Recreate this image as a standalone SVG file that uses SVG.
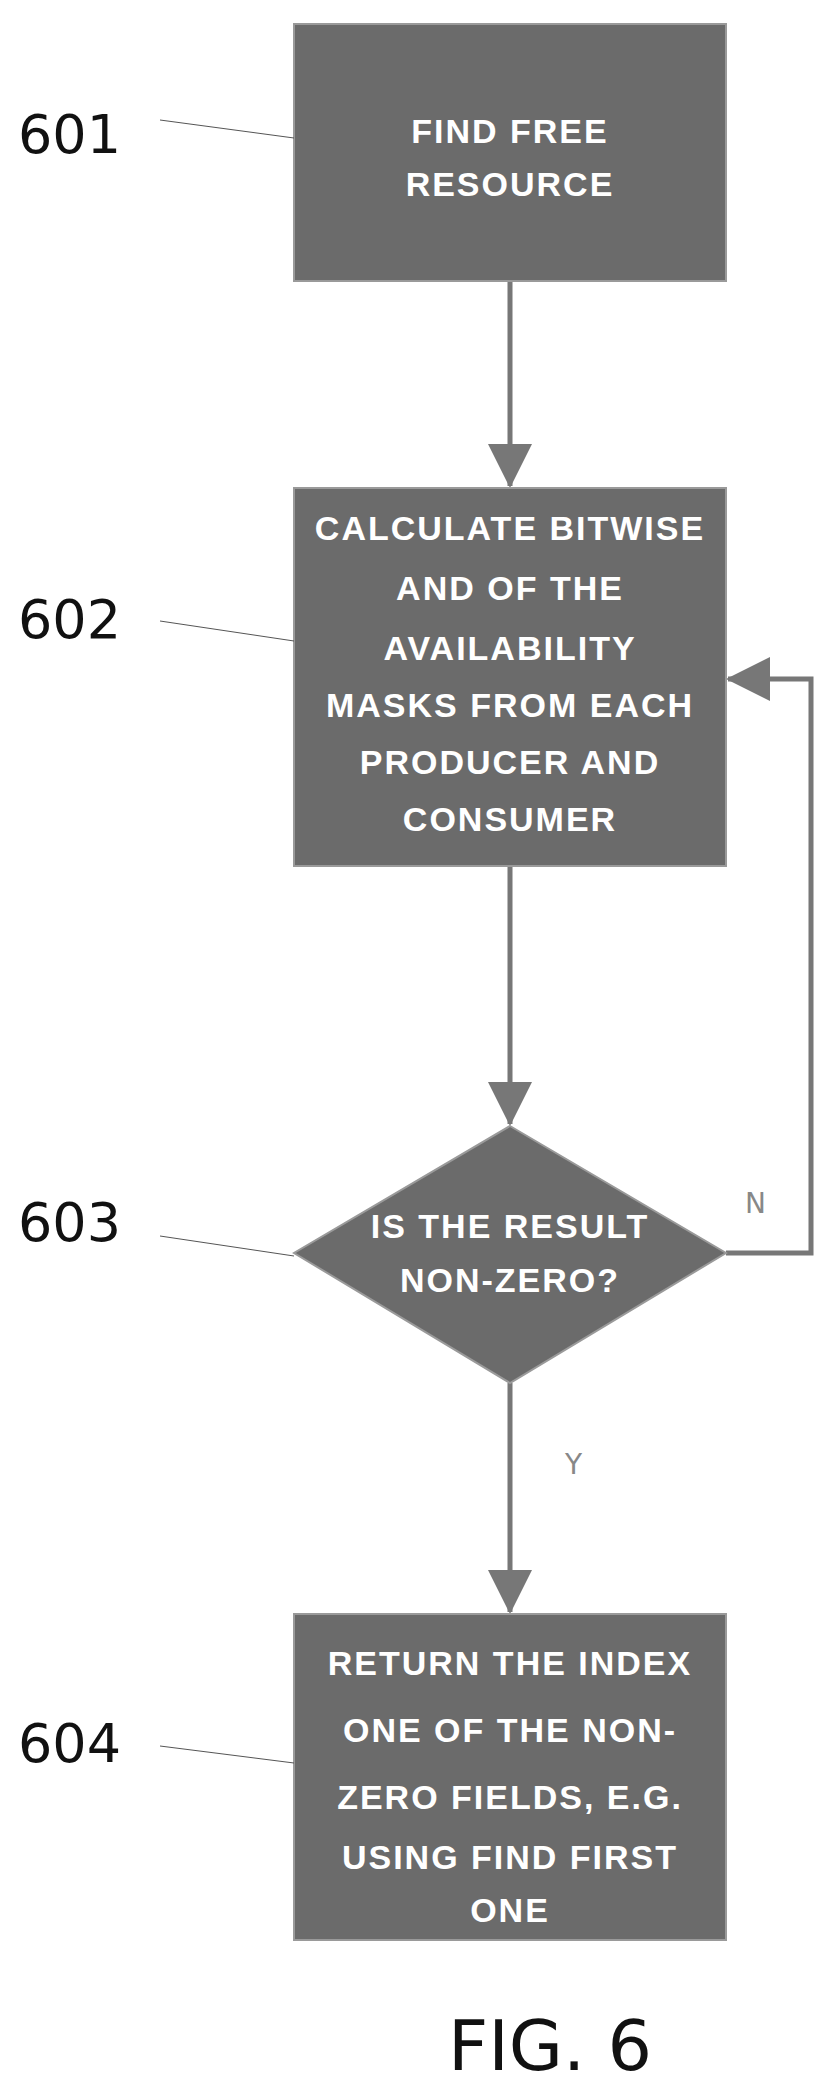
<svg xmlns="http://www.w3.org/2000/svg" width="834" height="2095" viewBox="0 0 834 2095">
<style>
.n{fill:#6b6b6b;stroke:#9a9a9a;stroke-width:2}
.t{font-family:"Liberation Sans",Arial,sans-serif;font-size:34px;font-weight:bold;letter-spacing:2px;fill:#fff;text-anchor:middle}
.lb{font-family:"DejaVu Sans","Liberation Sans",sans-serif;font-size:54px;fill:#111}
.ld{stroke:#555;stroke-width:1;fill:none}
.c{stroke:#777;stroke-width:5;fill:none}
.s{font-family:"DejaVu Sans",sans-serif;font-size:28px;fill:#888}
</style>
<defs><marker id="a" markerUnits="userSpaceOnUse" markerWidth="44" markerHeight="44" refX="42" refY="22" orient="auto"><path d="M0,0 L44,22 L0,44 Z" fill="#777"/></marker></defs>
<g id="connectors">
<path class="c" d="M510,281 V486" marker-end="url(#a)"/>
<path class="c" d="M510,866 V1124" marker-end="url(#a)"/>
<path class="c" d="M510,1383 V1612" marker-end="url(#a)"/>
<path class="c" d="M726,1253 H811 V679 H728" marker-end="url(#a)"/>
<text class="s" x="745" y="1213">N</text>
<text class="s" x="565" y="1474">Y</text>
</g>
<g id="n601"><rect class="n" x="294" y="24" width="432" height="257"/>
<text class="t" x="510" y="143">FIND FREE</text><text class="t" x="510" y="196">RESOURCE</text>
<text class="lb" x="18" y="153">601</text><path class="ld" d="M160,120 L294,138"/></g>
<g id="n602"><rect class="n" x="294" y="488" width="432" height="378"/>
<text class="t" x="510" y="540">CALCULATE BITWISE</text>
<text class="t" x="510" y="600">AND OF THE</text>
<text class="t" x="510" y="660">AVAILABILITY</text>
<text class="t" x="510" y="717">MASKS FROM EACH</text>
<text class="t" x="510" y="774">PRODUCER AND</text>
<text class="t" x="510" y="831">CONSUMER</text>
<text class="lb" x="18" y="638">602</text><path class="ld" d="M160,621 L294,641"/></g>
<g id="n603"><path class="n" d="M510,1126 L726,1253 L510,1383 L294,1253 Z"/>
<text class="t" x="510" y="1238">IS THE RESULT</text>
<text class="t" x="510" y="1292">NON-ZERO?</text>
<text class="lb" x="18" y="1241">603</text><path class="ld" d="M160,1236 L294,1256"/></g>
<g id="n604"><rect class="n" x="294" y="1614" width="432" height="326"/>
<text class="t" x="510" y="1675">RETURN THE INDEX</text>
<text class="t" x="510" y="1742">ONE OF THE NON-</text>
<text class="t" x="510" y="1809">ZERO FIELDS, E.G.</text>
<text class="t" x="510" y="1869">USING FIND FIRST</text>
<text class="t" x="510" y="1922">ONE</text>
<text class="lb" x="18" y="1762">604</text><path class="ld" d="M160,1746 L294,1763"/></g>
<text x="550" y="2070" text-anchor="middle" font-family="DejaVu Sans,sans-serif" font-size="70" fill="#111">FIG. 6</text>
</svg>
